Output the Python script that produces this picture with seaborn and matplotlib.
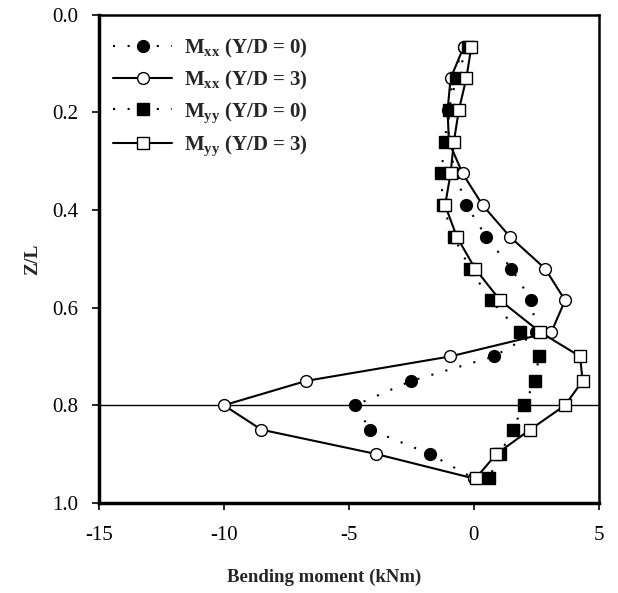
import numpy as np
import pandas as pd
import matplotlib
matplotlib.use("Agg")
import matplotlib.pyplot as plt
import seaborn as sns

z = [0.065, 0.13, 0.195, 0.26, 0.325, 0.39, 0.455, 0.52, 0.585, 0.65,
     0.70, 0.75, 0.80, 0.85, 0.90, 0.95]
mxx_0 = [-0.4, -0.85, -1.0, -1.0, -0.75, -0.3, 0.5, 1.5, 2.3, 2.5,
         0.8, -2.5, -4.75, -4.15, -1.75, 0.0]
mxx_3 = [-0.4, -0.93, -1.05, -1.0, -0.45, 0.35, 1.45, 2.85, 3.65, 3.1,
         -0.95, -6.7, -10.0, -8.5, -3.9, 0.0]
myy_0 = [-0.25, -0.7, -1.0, -1.17, -1.3, -1.25, -0.8, -0.15, 0.67, 1.85,
         2.6, 2.45, 2.0, 1.55, 1.05, 0.6]
myy_3 = [-0.1, -0.3, -0.6, -0.8, -0.93, -1.15, -0.68, 0.05, 1.05, 2.65,
         4.25, 4.35, 3.65, 2.25, 0.9, 0.07]
labels = [r"M$_{\mathbf{xx}}$ (Y/D = 0)", r"M$_{\mathbf{xx}}$ (Y/D = 3)",
          r"M$_{\mathbf{yy}}$ (Y/D = 0)", r"M$_{\mathbf{yy}}$ (Y/D = 3)"]
x_ticks = [-15, -10, -5, 0, 5]
y_ticks = [0.0, 0.2, 0.4, 0.6, 0.8, 1.0]

sns.set_style("ticks")
plt.rcParams['font.family'] = ['Liberation Serif', 'DejaVu Serif']
plt.rcParams['mathtext.fontset'] = 'custom'
plt.rcParams['mathtext.rm'] = 'Liberation Serif:bold'
plt.rcParams['mathtext.bf'] = 'Liberation Serif:bold'
plt.rcParams['mathtext.it'] = 'Liberation Serif:bold'

fig = plt.figure(figsize=(6.18, 5.93), dpi=100)
ax = fig.add_axes([0.160, 0.152, 0.809, 0.823])

series = [mxx_0, mxx_3, myy_0, myy_3]
markers = ['o', 'o', 's', 's']
faces = ['black', 'white', 'black', 'white']
styles = [(0, (1, 6)), '-', (0, (1, 6)), '-']

ax.axhline(0.8, color='black', lw=1.0, zorder=1)

for vals, lab, mk, fc, ls in zip(series, labels, markers, faces, styles):
    df = pd.DataFrame({'moment': vals, 'z': z})
    sns.lineplot(data=df, x='moment', y='z', sort=False, estimator=None,
                 ax=ax, color='black', lw=1.5, marker=mk,
                 markersize=8.5 if mk == 'o' else 8, markerfacecolor=fc,
                 markeredgecolor='black', markeredgewidth=1.0, label=lab)
    ax.lines[-1].set_linestyle(ls)

ax.set_xlim(-15, 5)
ax.set_ylim(1.0, 0.0)
ax.set_xticks(x_ticks)
ax.set_xticklabels([str(t) for t in x_ticks])
ax.set_yticks(y_ticks)
ax.set_yticklabels([f"{t:.1f}" for t in y_ticks])
ax.tick_params(direction='out', length=5, width=1.2, labelsize=15, colors='black')
ax.tick_params(axis='y', pad=10)
ax.tick_params(axis='x', pad=12)
for s in ['left', 'bottom']:
    ax.spines[s].set_linewidth(2.5)
for s in ['top', 'right']:
    ax.spines[s].set_linewidth(1.8)
for s in ax.spines.values():
    s.set_color('black')

ax.set_xlabel("Bending moment (kNm)", fontsize=13.5, fontweight='bold')
ax.xaxis.set_label_coords(0.45, -0.135)
ax.set_ylabel("Z/L", fontsize=14, fontweight='bold', labelpad=8)

leg = ax.legend(loc='upper left', frameon=False, fontsize=15, handlelength=2.8,
                borderaxespad=0.3, labelspacing=0.42, handletextpad=0.6,
                bbox_to_anchor=(0.0, 0.985))
for t in leg.get_texts():
    t.set_fontweight('bold')

fig.savefig("out.png", dpi=100)
